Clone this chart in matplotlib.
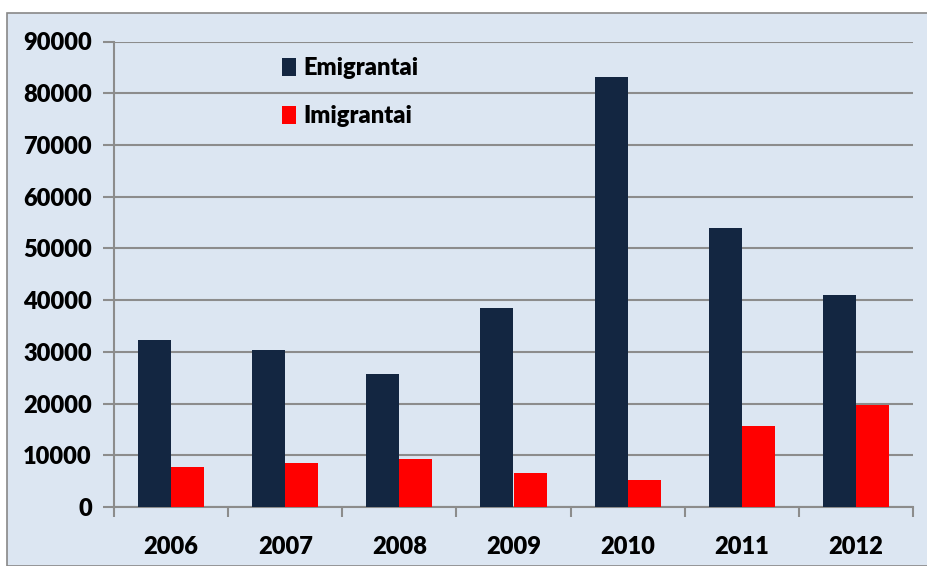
import numpy as np
import matplotlib

matplotlib.use("Agg")
import matplotlib.pyplot as plt
from matplotlib.patches import Rectangle

years = ["2006", "2007", "2008", "2009", "2010", "2011", "2012"]
emigrantai = [32300, 30400, 25700, 38500, 83200, 53900, 41000]
imigrantai = [7700, 8600, 9300, 6500, 5200, 15600, 19800]
y_ticks = [0, 10000, 20000, 30000, 40000, 50000, 60000, 70000, 80000, 90000]

BG = "#dce6f2"
GRID = "#8c8c8c"
NAVY = "#132641"
RED = "#ff0000"

plt.rcParams["font.family"] = ["Lato", "DejaVu Sans"]
plt.rcParams["font.weight"] = "bold"

fig = plt.figure(figsize=(9.28, 5.66), dpi=100)
fig.patch.set_facecolor("white")
fig.patches.append(Rectangle((7 / 928, 0), 1, 1 - 13 / 566, transform=fig.transFigure,
                             facecolor=BG, edgecolor="#888888", linewidth=1.2, zorder=-10))

ax = fig.add_axes([114 / 928, 1 - 507 / 566, (913 - 114) / 928, (507 - 41.5) / 566])
ax.set_facecolor(BG)
ax.set_zorder(5)

x = np.arange(len(years))
w = 0.29
ax.bar(x - w / 2, emigrantai, w, color=NAVY, label="Emigrantai", zorder=3)
ax.bar(x + w / 2, imigrantai, w, color=RED, label="Imigrantai", zorder=3)

ax.set_xlim(-0.5, len(years) - 0.5)
ax.set_ylim(0, 90000)
ax.set_yticks(y_ticks)
ax.set_yticklabels([str(v) for v in y_ticks], fontsize=17, fontweight="heavy")
ax.set_xticks(x)
ax.set_xticklabels(years, fontsize=17, fontweight="heavy")
ax.tick_params(axis="x", length=0, pad=21)
ax.tick_params(axis="y", length=8, color=GRID, width=1.5, pad=8)
ax.set_xticks(np.arange(len(years) + 1) - 0.5, minor=True)
ax.tick_params(axis="x", which="minor", length=7, color=GRID, width=1.5)

ax.grid(axis="y", color=GRID, linewidth=1.5, zorder=1)
for side in ["top", "right"]:
    ax.spines[side].set_visible(False)
for side in ["left", "bottom"]:
    ax.spines[side].set_color(GRID)
    ax.spines[side].set_linewidth(1.5)

leg = ax.legend(loc="upper left", bbox_to_anchor=(0.184, 1.012), frameon=False,
                handlelength=0.6, handleheight=0.8, handletextpad=0.3,
                labelspacing=1.1, prop={"size": 17, "weight": "heavy"})

fig.savefig("out.png", dpi=100, facecolor=fig.get_facecolor())
